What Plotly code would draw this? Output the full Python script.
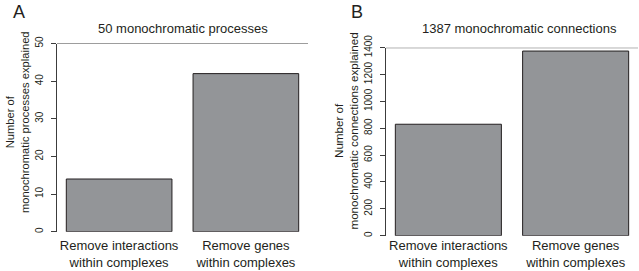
import plotly.graph_objects as go

W, H = 639, 271

categories = ["Remove interactions<br>within complexes", "Remove genes<br>within complexes"]
processes_explained = [14, 42]
connections_explained = [830, 1375]
total_processes = 50
total_connections = 1387
ytick_a = [0, 10, 20, 30, 40, 50]
ytick_b = [0, 200, 400, 600, 800, 1000, 1200, 1400]

BAR = "#939598"
EDGE = "#231f20"
AX = "#3c3c3c"
TXT = "#231f20"
FONT = "Liberation Sans, Arial, sans-serif"

def px_x(p):
    return p / W

def px_y(p):
    return (H - p) / H

fig = go.Figure()
fig.add_trace(go.Bar(x=categories, y=processes_explained, xaxis="x", yaxis="y",
                     marker=dict(color=BAR, line=dict(color=EDGE, width=1)), showlegend=False))
fig.add_trace(go.Bar(x=categories, y=connections_explained, xaxis="x2", yaxis="y2",
                     marker=dict(color=BAR, line=dict(color=EDGE, width=1)), showlegend=False))

xcommon = dict(type="category", range=[-0.49, 1.49], showline=False, ticks="", showgrid=False,
               zeroline=False, automargin=False,
               tickfont=dict(size=13, color=TXT, family=FONT))
ycommon = dict(showline=True, linecolor=AX, linewidth=1, ticks="outside", ticklen=5, tickcolor=AX,
               tickangle=-90, showgrid=False, zeroline=False, automargin=False,
               tickfont=dict(size=10, color=TXT, family=FONT), ticklabelstandoff=4)

fig.update_layout(
    width=W, height=H, margin=dict(l=0, r=0, t=0, b=0, autoexpand=False),
    paper_bgcolor="white", plot_bgcolor="white", bargap=1 - 1 / 1.2,
    font=dict(family=FONT, color=TXT),
    xaxis=dict(domain=[px_x(57), px_x(308)], anchor="y", ticklabelstandoff=4, **xcommon),
    yaxis=dict(domain=[px_y(231.7), px_y(43.5)], anchor="x", range=[0, 50],
               tickvals=ytick_a, **ycommon),
    xaxis2=dict(domain=[px_x(386), px_x(638)], anchor="y2", ticklabelstandoff=0, **xcommon),
    yaxis2=dict(domain=[px_y(235.7), px_y(47.7)], anchor="x2", range=[0, 1400],
                tickvals=ytick_b, **ycommon),
)

fig.add_shape(type="line", xref="x domain", yref="y", x0=0, x1=1, y0=ytick_a[-1], y1=ytick_a[-1],
              line=dict(color=AX, width=1))
fig.add_shape(type="line", xref="x2 domain", yref="y2", x0=0, x1=1, y0=ytick_b[-1], y1=ytick_b[-1],
              line=dict(color=AX, width=1))

ann = [
    dict(text="A", x=px_x(19), y=px_y(12), size=18),
    dict(text="B", x=px_x(357), y=px_y(12), size=18),
    dict(text=f"{total_processes} monochromatic processes", x=px_x(182.5), y=px_y(28), size=13),
    dict(text=f"{total_connections} monochromatic connections", x=px_x(519.5), y=px_y(28), size=13),
]
for a in ann:
    fig.add_annotation(text=a["text"], x=a["x"], y=a["y"], xref="paper", yref="paper",
                       showarrow=False, xanchor="center", yanchor="middle",
                       font=dict(size=a["size"], color=TXT, family=FONT))

fig.add_annotation(text="Number of<br>monochromatic processes explained", x=px_x(17), y=px_y(122),
                   xref="paper", yref="paper", showarrow=False, textangle=-90,
                   xanchor="center", yanchor="middle", font=dict(size=11.2, color=TXT, family=FONT))
fig.add_annotation(text="Number of<br>monochromatic connections explained", x=px_x(345.5), y=px_y(131),
                   xref="paper", yref="paper", showarrow=False, textangle=-90,
                   xanchor="center", yanchor="middle", font=dict(size=11.6, color=TXT, family=FONT))

fig.write_html("out.html", config={"displayModeBar": False},
               post_script="document.body.style.margin='0';document.body.style.overflow='hidden';")
